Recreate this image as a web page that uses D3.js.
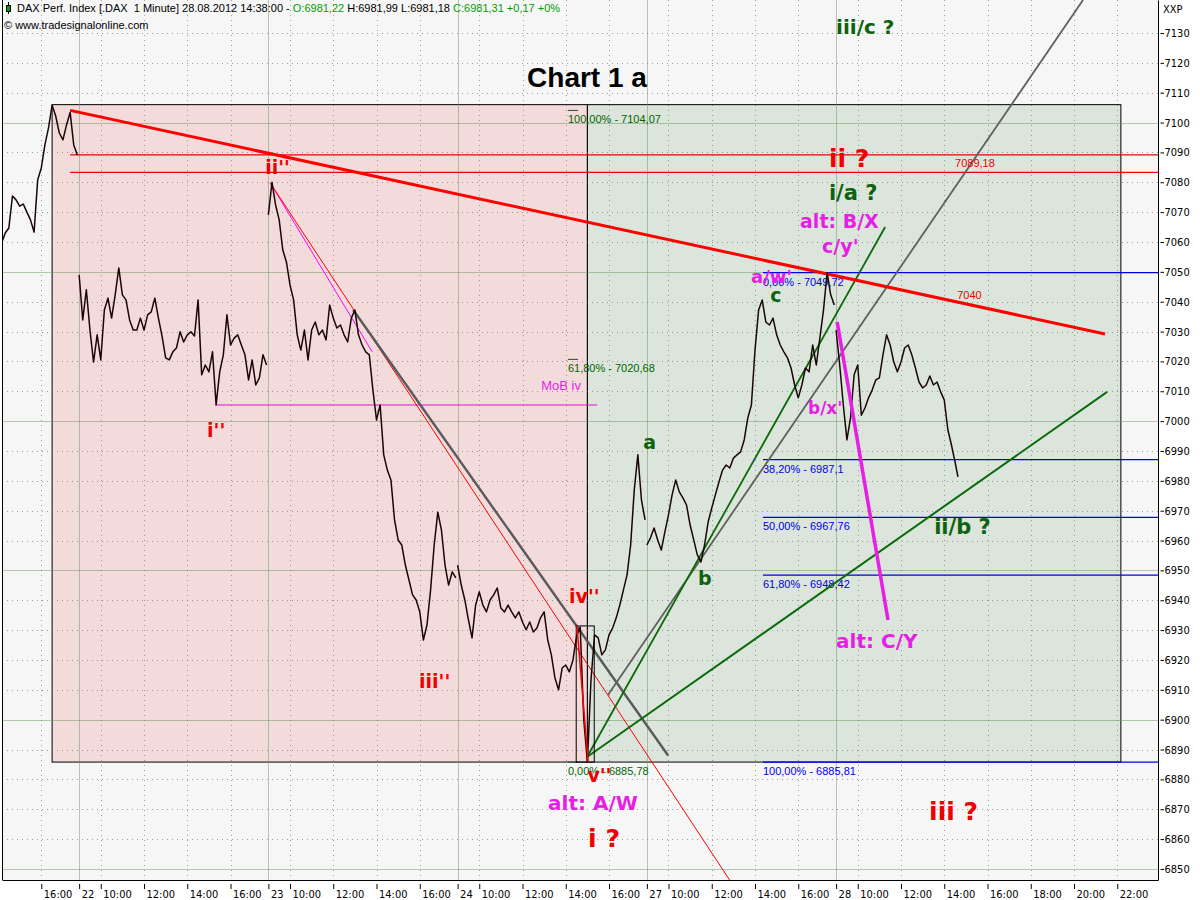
<!DOCTYPE html>
<html><head><meta charset="utf-8">
<script src="https://cdn.jsdelivr.net/npm/d3@7/dist/d3.min.js"></script>
<style>
html,body{margin:0;padding:0;background:#fff;}
svg{display:block;}
</style></head>
<body>
<svg id="chart" width="1200" height="900"></svg>
<script>
// ================= DATA =================
const dayOrder = ["21","22","23","24","27","28"];
const sessionOpen = "09:00";
const sessionLength = 525;          // minutes per trading session (09:00-17:45)
const barStep = 10;                 // minutes between sampled closes

const close21Start = "14:10";
const close21 = [7059.7,7063.0,7064.7,7075.4,7074.1,7072.0,7072.7,7070.0,7067.4,7063.3,
                 7080.8,7084.8,7092.5,7098.2,7105.8,7102.2,7096.5,7094.2,7099.2,7103.4,
                 7092.5,7089.1];
const close22 = [7049.0,7033.9,7044.0,7030.5,7019.8,7028.9,7020.5,7037.2,7041.2,7034.5,
                 7042.3,7051.3,7042.3,7040.6,7033.9,7030.5,7030.5,7034.5,7030.5,7035.6,
                 7036.6,7041.2,7034.5,7028.5,7021.2,7020.5,7023.2,7024.5,7029.9,7026.5,
                 7028.9,7029.9,7028.5,7040.6,7015.5,7018.8,7016.5,7023.2,7005.5,7016.5,
                 7022.2,7035.6,7025.5,7027.8,7028.9,7025.5,7022.2,7013.8,7020.5,7012.1,
                 7014.5,7022.2,7018.8];
const close23 = [7069.1,7080.0,7072.4,7067.4,7057.3,7053.3,7045.6,7040.6,7028.9,7023.8,
                 7030.5,7020.5,7030.5,7033.2,7028.9,7030.5,7027.2,7038.9,7034.5,7031.2,
                 7032.2,7028.9,7026.5,7034.5,7037.2,7028.9,7025.5,7023.2,7022.2,7010.4,
                 7000.4,7005.4,6988.7,6983.6,6980.3,6966.9,6960.2,6958.5,6951.8,6946.8,
                 6941.8,6940.1,6936.1,6926.7,6931.7,6943.5,6958.5,6969.5,6963.6,6951.8,
                 6945.1,6949.5,6947.5];
const close24 = [6951.8,6945.1,6940.1,6933.4,6927.4,6938.4,6942.8,6938.4,6936.1,6940.1,
                 6941.8,6944.1,6937.4,6936.1,6938.4,6936.1,6934.1,6936.1,6932.7,6930.1,
                 6932.7,6929.4,6930.7,6934.1,6936.1,6926.7,6921.7,6914.0,6910.0,6917.3,
                 6918.3,6916.0,6920.0,6928.0,6931.0,6899.9,6885.8,6913.3,6928.4,6927.4,
                 6921.7,6923.4,6928.4,6930.7,6934.1,6938.4,6943.5,6948.5,6958.5,6976.9,
                 6988.7,6973.6,6966.9];
const close27 = [6958.5,6960.9,6964.2,6960.2,6956.8,6962.9,6968.6,6975.3,6980.3,6976.3,
                 6974.3,6971.9,6965.2,6960.2,6955.2,6952.8,6958.5,6966.2,6970.9,6975.3,
                 6979.6,6983.6,6985.3,6984.3,6987.6,6988.7,6989.7,6993.7,7001.1,7005.4,
                 7023.8,7037.2,7040.6,7033.2,7032.2,7034.5,7028.9,7025.5,7023.2,7021.2,
                 7017.8,7012.1,7007.8,7012.1,7017.8,7016.5,7025.5,7018.8,7027.9,7037.2,
                 7049.7,7042.3,7038.9];
const close28 = [7030.5,7018.8,7005.4,6993.7,7001.1,7015.5,7018.8,7002.0,7004.4,7007.8,
                 7010.4,7013.8,7014.5,7022.2,7028.9,7025.5,7019.8,7016.5,7019.8,7024.5,
                 7025.5,7022.2,7017.8,7013.1,7011.1,7012.1,7015.1,7012.1,7013.1,7009.8,
                 7007.1,6997.1,6992.0,6986.3];
const lastTick = ["28","14:38",6981.31];

// axis ticks
const xTicks = [["21","16:00","16:00"],
  ["22","09:00","22"],["22","10:00","10:00"],["22","12:00","12:00"],["22","14:00","14:00"],["22","16:00","16:00"],
  ["23","09:00","23"],["23","10:00","10:00"],["23","12:00","12:00"],["23","14:00","14:00"],["23","16:00","16:00"],
  ["24","09:00","24"],["24","10:00","10:00"],["24","12:00","12:00"],["24","14:00","14:00"],["24","16:00","16:00"],
  ["27","09:00","27"],["27","10:00","10:00"],["27","12:00","12:00"],["27","14:00","14:00"],["27","16:00","16:00"],
  ["28","09:00","28"],["28","10:00","10:00"],["28","12:00","12:00"],["28","14:00","14:00"],["28","16:00","16:00"],
  ["28","18:00","18:00"],["28","20:00","20:00"],["28","22:00","22:00"]];
const yTicks = [6850,6860,6870,6880,6890,6900,6910,6920,6930,6940,6950,6960,6970,6980,6990,
                7000,7010,7020,7030,7040,7050,7060,7070,7080,7090,7100,7110,7120,7130];
const yDomain = [6846.3, 7141.05];
const xDomain = [["21","14:11"],["28","23:53"]];

// boxes (high/low of the move)
const boxHigh = 7106.0, boxLow = 6885.8;
const boxTimes = [["21","16:30"],["24","15:00"],["28","22:10"]];
const smallBox = [["24","14:29",6931.4],["24","15:19",6885.8]];

// horizontal levels
const resistanceLevels = [7089.18, 7083.3];
const resistanceStart = ["21","17:20"];
const mobLevel = 7005.4;
const mobSpan = [["22","15:17"],["24","15:27"]];
const fibGreenLevels = [7104.07, 7020.68, 6885.78];
const fibGreenText = ["100,00% - 7104,07","61,80% - 7020,68","0,00% - 6885,78"];
const fibGreenSpan = [["24","14:06"],["24","14:34"]];
const fibBlueLevels = [7049.72, 6987.1, 6967.76, 6948.42, 6885.81];
const fibBlueText = ["0,00% - 7049,72","38,20% - 6987,1","50,00% - 6967,76","61,80% - 6948,42","100,00% - 6885,81"];
const fibBlueStart = ["27","14:22"];
const rightEnd = ["28","23:59"];

// trend lines [ [day,time,price], [day,time,price] ]
const trendRed     = [["21","17:20",7104.07],["28","21:26",7029.2]];
const trendThinRed = [["23","09:05",7079.8],["27","13:00",6844.4]];
const trendThinMag = [["23","09:05",7079.8],["23","13:48",7023.2]];
const trendGrayDn  = [["23","12:55",7037.3],["27","09:59",6888.0]];
const trendGrayUp  = [["24","15:57",6908.3],["28","20:25",7141.05]];
const trendGreenA  = [["24","14:59",6887.5],["28","11:16",7065.0]];
const trendGreenB  = [["24","14:59",6887.5],["28","21:32",7009.8]];
const trendMagThick= [["28","09:03",7033.2],["28","11:24",6933.4]];
const trendRedSmall= [["24","14:31",6931.4],["24","15:02",6885.8]];

// price tags
const priceTags = [["7089,18","28","14:30",7089.18,12],["7040","28","14:36",7040,-3]];

// wave labels: text, day, time, price, colour, size
const waveLabels = [
  ["iii/c ?","28","09:00",7129.7,"green",20],
  ["ii ?","27","17:25",7085.1,"red",25],
  ["i/a ?","27","17:25",7074.1,"green",21],
  ["alt: B/X","27","16:05",7064.7,"magenta",19],
  ["c/y'","27","17:06",7056.3,"magenta",19],
  ["a/w'","27","13:49",7046.3,"magenta",18],
  ["c","27","14:42",7039.9,"green",19],
  ["b/x'","27","16:27",7002.4,"magenta",17],
  ["a","24","17:35",6990.7,"green",19],
  ["b","27","11:22",6945.1,"green",19],
  ["ii/b ?","28","13:32",6962.2,"green",21],
  ["alt: C/Y","28","09:00",6924.1,"magenta",20],
  ["iii ?","28","13:18",6866.4,"red",25],
  ["alt: A/W","24","13:11",6869.8,"magenta",20],
  ["i ?","24","15:02",6857.4,"red",25],
  ["v''","24","15:00",6879.2,"red",19],
  ["iv''","24","14:09",6939.1,"red",19],
  ["iii''","23","15:58",6910.6,"red",19],
  ["ii''","22","17:36",7082.8,"red",19],
  ["i''","22","14:55",6994.7,"red",19]
];
const mobLabel = ["MoB iv","24","12:52",7010.4];

const titleText = "Chart 1 a";
const headerParts = [["DAX Perf. Index [.DAX  1 Minute] 28.08.2012 14:38:00 - ","#000"],
  ["O:6981,22","#00a000"],[" H:6981,99 L:6981,18 ","#000"],["C:6981,31 +0,17 +0%","#00a000"]];
const copyrightText = "\u00a9 www.tradesignalonline.com";
const unitText = "XXP";

// ================= DRAWING =================
const W = 1200, H = 900;
const plot = {left:2, right:1158, top:0, bottom:880};
const colors = {red:"#f00000", green:"#0d620d", magenta:"#e61ee6", blue:"#0000e6", fibGreen:"#006400"};
const smallFont = "'Liberation Sans', Arial, sans-serif";
const axisFont = "'Liberation Sans Narrow','Arial Narrow','DejaVu Sans Condensed','Liberation Sans',sans-serif";
const boldFont = "'DejaVu Sans', Verdana, sans-serif";

function T(day, hm){
  const [h,m] = hm.split(":").map(Number);
  const [oh,om] = sessionOpen.split(":").map(Number);
  return dayOrder.indexOf(day)*sessionLength + (h*60+m) - (oh*60+om);
}
function addMin(hm, k){
  const [h,m] = hm.split(":").map(Number);
  const t = h*60+m+k;
  return String(Math.floor(t/60)).padStart(2,"0")+":"+String(t%60).padStart(2,"0");
}

const x = d3.scaleLinear().domain([T(...xDomain[0]), T(...xDomain[1])]).range([plot.left, plot.right]);
const y = d3.scaleLinear().domain(yDomain).range([plot.bottom, plot.top]);

const svg = d3.select("#chart");
svg.append("rect").attr("width",W).attr("height",H).attr("fill","#ffffff");
svg.append("defs").append("clipPath").attr("id","clip")
  .append("rect").attr("x",plot.left).attr("y",plot.top)
  .attr("width",plot.right-plot.left).attr("height",plot.bottom-plot.top);

svg.append("rect").attr("x",plot.left).attr("y",plot.top)
  .attr("width",plot.right-plot.left).attr("height",plot.bottom-plot.top).attr("fill","#f6f6f6");

const g = svg.append("g").attr("clip-path","url(#clip)");

// boxes
const bx0 = x(T(...boxTimes[0])), bx1 = x(T(...boxTimes[1])), bx2 = x(T(...boxTimes[2]));
g.append("rect").attr("x",bx0).attr("y",y(boxHigh)).attr("width",bx1-bx0).attr("height",y(boxLow)-y(boxHigh))
  .attr("fill","#f4d8d8").attr("fill-opacity",0.9).attr("stroke","#000").attr("stroke-width",1);
g.append("rect").attr("x",bx1).attr("y",y(boxHigh)).attr("width",bx2-bx1).attr("height",y(boxLow)-y(boxHigh))
  .attr("fill","#d9e3d8").attr("fill-opacity",0.9).attr("stroke","#000").attr("stroke-width",1);

// grid
yTicks.forEach(v=>{
  const solid = v%50===0;
  g.append("line").attr("x1",plot.left).attr("x2",plot.right)
    .attr("y1",Math.round(y(v))+0.5).attr("y2",Math.round(y(v))+0.5)
    .attr("stroke", solid ? "rgba(110,150,100,0.5)" : "rgba(90,110,90,0.6)")
    .attr("stroke-dasharray", solid ? null : "1,4").attr("stroke-width",1);
});
xTicks.forEach(d=>{
  const solid = d[1]===sessionOpen;
  const xx = Math.round(x(T(d[0],d[1])))+0.5;
  g.append("line").attr("x1",xx).attr("x2",xx).attr("y1",plot.top).attr("y2",plot.bottom)
    .attr("stroke", solid ? "rgba(110,150,100,0.5)" : "rgba(90,110,90,0.6)")
    .attr("stroke-dasharray", solid ? null : "1,4").attr("stroke-width",1);
});

// horizontal levels
resistanceLevels.forEach(v=>{
  g.append("line").attr("x1",x(T(...resistanceStart))).attr("x2",x(T(...rightEnd)))
   .attr("y1",y(v)).attr("y2",y(v)).attr("stroke",colors.red).attr("stroke-width",1.2);
});
g.append("line").attr("x1",x(T(...mobSpan[0]))).attr("x2",x(T(...mobSpan[1])))
  .attr("y1",y(mobLevel)).attr("y2",y(mobLevel)).attr("stroke","#d818c8").attr("stroke-width",1);
fibBlueLevels.forEach((v,i)=>{
  g.append("line").attr("x1",x(T(...fibBlueStart))).attr("x2",x(T(...rightEnd)))
   .attr("y1",y(v)).attr("y2",y(v)).attr("stroke",colors.blue).attr("stroke-width",1.2);
  g.append("text").attr("x",x(T(...fibBlueStart))).attr("y",y(v)+13).text(fibBlueText[i])
   .attr("font-family",smallFont).attr("font-size",11).attr("fill",colors.blue);
});
fibGreenLevels.forEach((v,i)=>{
  g.append("line").attr("x1",x(T(...fibGreenSpan[0]))).attr("x2",x(T(...fibGreenSpan[1])))
   .attr("y1",y(v)).attr("y2",y(v)).attr("stroke","#2a4a2a").attr("stroke-width",1);
  g.append("text").attr("x",x(T(...fibGreenSpan[0]))).attr("y",y(v)+13).text(fibGreenText[i])
   .attr("font-family",smallFont).attr("font-size",11).attr("fill",colors.fibGreen);
});

// trend lines
function seg(p, color, width){
  g.append("line").attr("x1",x(T(p[0][0],p[0][1]))).attr("y1",y(p[0][2]))
   .attr("x2",x(T(p[1][0],p[1][1]))).attr("y2",y(p[1][2]))
   .attr("stroke",color).attr("stroke-width",width).attr("stroke-linecap","butt");
}
seg(trendThinMag, "#ff00ff", 1);
seg(trendThinRed, "#ff0000", 1);
seg(trendGrayDn, "#5a5a5a", 2.4);
seg(trendGrayUp, "#606060", 1.8);
seg(trendGreenA, "#0b6a0b", 1.8);
seg(trendGreenB, "#0b6a0b", 2.0);
seg(trendRed, "#ff0000", 3);

// price
const line = d3.line().x(d=>x(d.t)).y(d=>y(d.v));
function series(day, start, vals){
  return vals.map((v,i)=>({t:T(day, addMin(start, i*barStep)), v}));
}
const sessions = [
  series("21", close21Start, close21),
  series("22", sessionOpen, close22),
  series("23", sessionOpen, close23),
  series("24", sessionOpen, close24),
  series("27", sessionOpen, close27),
  series("28", sessionOpen, close28).concat([{t:T(lastTick[0],lastTick[1]), v:lastTick[2]}])
];
sessions.forEach(s=>{
  g.append("path").datum(s).attr("d",line).attr("fill","none")
   .attr("stroke","#1a0606").attr("stroke-width",1.5).attr("stroke-linejoin","round");
});

// small box near the low
g.append("rect").attr("x",x(T(smallBox[0][0],smallBox[0][1]))).attr("y",y(smallBox[0][2]))
  .attr("width",x(T(smallBox[1][0],smallBox[1][1]))-x(T(smallBox[0][0],smallBox[0][1])))
  .attr("height",y(smallBox[1][2])-y(smallBox[0][2]))
  .attr("fill","none").attr("stroke","#000").attr("stroke-width",1);
seg(trendRedSmall, "#ff0000", 1.5);
seg(trendMagThick, "#e61ee6", 3.5);

// price tags
priceTags.forEach(d=>{
  g.append("text").attr("x",x(T(d[1],d[2]))).attr("y",y(d[3])+d[4]).text(d[0])
   .attr("font-family",smallFont).attr("font-size",11).attr("fill",colors.red);
});
// MoB label
g.append("text").attr("x",x(T(mobLabel[1],mobLabel[2]))).attr("y",y(mobLabel[3])).text(mobLabel[0])
  .attr("font-family",smallFont).attr("font-size",13).attr("fill",colors.magenta);

// wave labels
waveLabels.forEach(d=>{
  g.append("text").attr("x",x(T(d[1],d[2]))).attr("y",y(d[3])).text(d[0])
   .attr("font-family",boldFont).attr("font-weight","bold").attr("font-size",d[5])
   .attr("fill",colors[d[4]]);
});

// title
g.append("text").attr("x",587).attr("y",87).attr("text-anchor","middle").text(titleText)
  .attr("font-family","'Liberation Sans', Arial, sans-serif").attr("font-weight","bold").attr("font-size",28).attr("fill","#000");

// header
svg.append("line").attr("x1",8.5).attr("x2",8.5).attr("y1",2).attr("y2",14).attr("stroke","#000");
svg.append("rect").attr("x",6.5).attr("y",5.5).attr("width",4).attr("height",6).attr("fill","#00a000").attr("stroke","#000");
const ht = svg.append("text").attr("x",17).attr("y",12).attr("font-family",smallFont).attr("font-size",11)
  .style("white-space","pre");
headerParts.forEach(p=>ht.append("tspan").attr("fill",p[1]).text(p[0]));
svg.append("text").attr("x",4).attr("y",29).attr("font-family",smallFont).attr("font-size",11).text(copyrightText);

// axes
const xAxis = d3.axisBottom(x)
  .tickValues(xTicks.map(d=>T(d[0],d[1])))
  .tickFormat((d,i)=>xTicks[i][2]).tickSizeOuter(0);
const gx = svg.append("g").attr("transform",`translate(0,${plot.bottom})`).call(xAxis);
gx.select(".domain").attr("stroke","#000");
gx.selectAll(".tick line").attr("y1",4).attr("y2",9).attr("stroke","#000");
gx.selectAll(".tick text").attr("text-anchor","start").attr("x",2).attr("y",10).attr("dy","0.71em")
  .attr("font-family",axisFont).attr("font-size",11).attr("fill","#000");

const yAxis = d3.axisRight(y).tickValues(yTicks).tickFormat(d3.format("d")).tickSizeOuter(0);
const gy = svg.append("g").attr("transform",`translate(${plot.right},0)`).call(yAxis);
gy.select(".domain").attr("stroke","#000");
gy.selectAll(".tick line").attr("x1",2.5).attr("x2",6).attr("stroke","#000");
gy.selectAll(".tick text").attr("x",6.5).attr("font-family",axisFont).attr("font-size",11).attr("fill","#000");

svg.append("line").attr("x1",plot.left+0.5).attr("x2",plot.left+0.5).attr("y1",plot.top).attr("y2",plot.bottom)
  .attr("stroke","#000");
svg.append("text").attr("x",plot.right+5).attr("y",13).text(unitText)
  .attr("font-family",axisFont).attr("font-size",11).attr("fill","#000");
</script>
</body></html>
